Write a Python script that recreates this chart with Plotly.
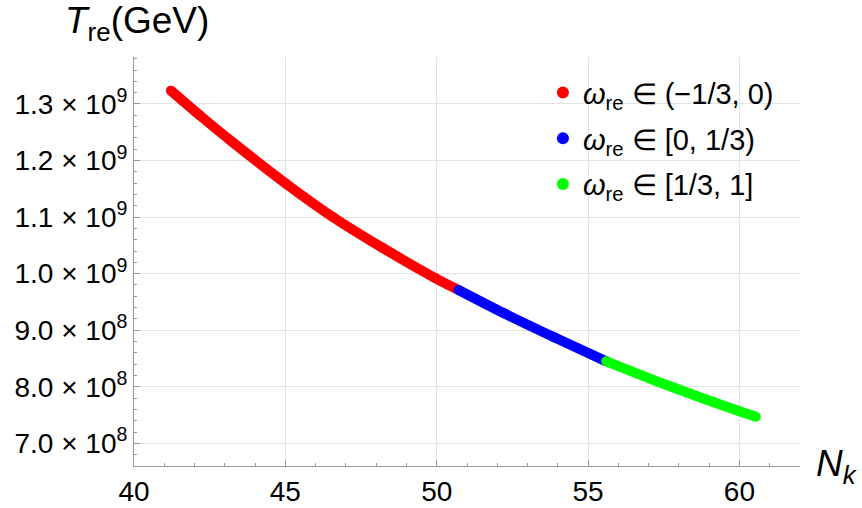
import plotly.graph_objects as go

# ---- data ----
red_N = [41.22, 42.17, 43.27, 45.0, 46.56, 48.2, 49.95, 50.72]
red_T = [1.3235e9, 1.280e9, 1.2318e9, 1.160e9, 1.1005e9, 1.046e9, 0.9922e9, 0.9712e9]
blue_N = [50.72, 52.26, 53.9, 55.6]
blue_T = [0.9712e9, 0.929e9, 0.887e9, 0.845e9]
green_N = [55.6, 57.75, 59.93, 60.54]
green_T = [0.845e9, 0.800e9, 0.758e9, 0.747e9]

series_names = [
    "<i>ω</i><sub>re</sub> ∈ (−1/3, 0)",
    "<i>ω</i><sub>re</sub> ∈ [0, 1/3)",
    "<i>ω</i><sub>re</sub> ∈ [1/3, 1]",
]
series_colors = ["#ff0000", "#0000ff", "#00ff00"]

y_tickvals = [7.0e8, 8.0e8, 9.0e8, 1.0e9, 1.1e9, 1.2e9, 1.3e9]
y_ticktext = ["7.0 × 10<sup>8</sup>", "8.0 × 10<sup>8</sup>", "9.0 × 10<sup>8</sup>",
              "1.0 × 10<sup>9</sup>", "1.1 × 10<sup>9</sup>", "1.2 × 10<sup>9</sup>",
              "1.3 × 10<sup>9</sup>"]
x_tickvals = [40, 45, 50, 55, 60]

FONT = "Liberation Sans, Arial, sans-serif"

fig = go.Figure()
for (xs, ys), col in zip([(red_N, red_T), (blue_N, blue_T), (green_N, green_T)], series_colors):
    fig.add_trace(go.Scatter(
        x=xs, y=ys, mode="lines+markers",
        line=dict(color=col, width=10, shape="spline", smoothing=0.8),
        marker=dict(color=col, size=10),
        showlegend=False, hoverinfo="skip"))

for i, (name, col) in enumerate(zip(series_names, series_colors)):
    fig.add_trace(go.Scatter(
        x=[None], y=[None], mode="markers", name=name,
        marker=dict(color=col, size=7), legendgroup=f"g{i}"))

axis_common = dict(
    showline=True, linecolor="#9a9a9a", linewidth=1,
    showgrid=True, gridcolor="#e3e3e3", gridwidth=1,
    ticks="inside", ticklen=6, tickcolor="#9a9a9a",
    tickfont=dict(family=FONT, size=28, color="black"),
    zeroline=False, mirror=False, automargin=False,
)

fig.update_xaxes(range=[40, 62], tickmode="array", tickvals=x_tickvals,
                 minor=dict(tickmode="linear", tick0=0, dtick=1, ticks="inside",
                            ticklen=3, tickcolor="#9a9a9a", showgrid=False),
                 **axis_common)
fig.update_yaxes(range=[6.6e8, 1.383e9], tickmode="array", tickvals=y_tickvals,
                 ticktext=y_ticktext,
                 minor=dict(tickmode="linear", tick0=0, dtick=2e7, ticks="inside",
                            ticklen=3, tickcolor="#9a9a9a", showgrid=False),
                 **axis_common)

fig.update_layout(
    width=862, height=508,
    margin=dict(l=134, r=62, t=57, b=42, autoexpand=False),
    plot_bgcolor="white", paper_bgcolor="white",
    font=dict(family=FONT, color="black"),
    legend=dict(x=0.614, y=0.975, xanchor="left", yanchor="top",
                font=dict(family=FONT, size=29, color="black"),
                bgcolor="rgba(0,0,0,0)", tracegroupgap=5,
                itemsizing="constant"),
    annotations=[
        dict(text="<i>T</i><sub>re</sub>(GeV)", xref="paper", yref="paper",
             x=0.005, y=1.083, xanchor="center", yanchor="middle", showarrow=False,
             font=dict(family=FONT, size=37, color="black")),
        dict(text="<i>N</i><sub><i>k</i></sub>", xref="paper", yref="paper",
             x=1.055, y=0.0, xanchor="center", yanchor="middle", showarrow=False,
             font=dict(family=FONT, size=37, color="black")),
    ],
)

fig.write_html("out.html", config={"displayModeBar": False},
               post_script="document.body.style.margin='0';")
